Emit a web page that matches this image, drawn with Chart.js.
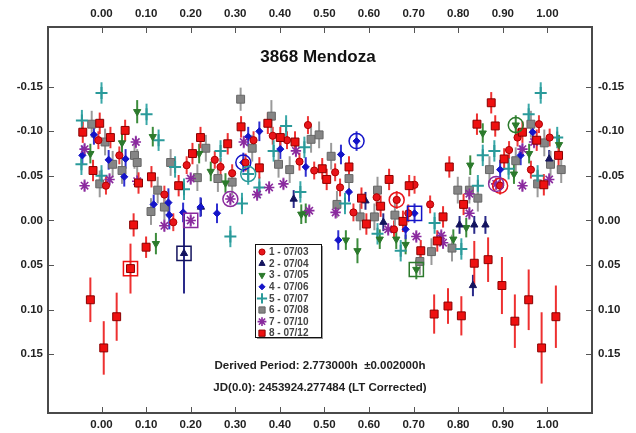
<!DOCTYPE html>
<html>
<head>
<meta charset="utf-8">
<script src="https://cdn.jsdelivr.net/npm/chart.js@4.4.1/dist/chart.umd.min.js"></script>
<style>
  html, body { margin: 0; padding: 0; background: #fff; }
  #wrap { width: 636px; height: 433px; }
</style>
</head>
<body>
<div id="wrap"><canvas id="chart"></canvas></div>
<script>
// =========================
// DATA  (phase, reduced mag, optional error)
// =========================
const chartTitle = "3868 Mendoza";
const periodText = "Derived Period: 2.773000h  \u00B10.002000h";
const jdText = "JD(0.0): 2453924.277484 (LT Corrected)";

const seriesLabels = ["1 - 07/03", "2 - 07/04", "3 - 07/05", "4 - 07/06", "5 - 07/07", "6 - 07/08", "7 - 07/10", "8 - 07/12"];
const errDefault = [0.010, 0.010, 0.011, 0.011, 0.012, 0.015, 0.007, 0.012];

const xTicks = [0, 0.1, 0.2, 0.3, 0.4, 0.5, 0.6, 0.7, 0.8, 0.9, 1.0];
const yTicks = [-0.15, -0.10, -0.05, 0, 0.05, 0.10, 0.15];

const s1 = [[-0.007,-0.090],[0.010,-0.039],[0.040,-0.073],[0.141,-0.029],[0.161,0.002],[0.191,-0.062],
  [0.254,-0.068],[0.293,-0.053],[0.384,-0.095],[0.416,-0.090],[0.463,-0.107],[0.477,-0.056],[0.524,-0.054],
  [0.565,-0.009],[0.617,-0.026],[0.702,-0.040],[0.688,-0.008],[0.737,-0.018],[0.656,0.010],[0.914,-0.079],
  [0.933,-0.093],[0.963,-0.057],[0.981,-0.108],[1.005,-0.093],[0.341,-0.090],[0.323,-0.065],[0.267,-0.060],
  [0.444,-0.066],[0.535,-0.037],[0.662,-0.023],[0.894,-0.039]];

const s2 = [[0.185,0.037,0.045],[0.223,-0.015],[0.431,-0.024],[0.592,-0.022],[0.632,0.002],[0.803,0.005],
  [0.836,0.005],[0.861,0.005],[0.833,0.073,0.012],[1.004,-0.069]];

const s3 = [[0.046,-0.087],[0.080,-0.122,0.013],[0.115,-0.094],[-0.025,-0.075],[0.219,-0.075],[0.245,-0.055],
  [0.278,-0.042],[0.448,-0.007],[0.458,-0.008],[0.122,0.026,0.012],[0.548,0.022],[0.574,0.034,0.014],
  [0.624,0.021],[0.661,0.021],[0.682,0.027],[0.706,0.055],[0.789,0.021],[0.818,0.008],[0.827,-0.062],
  [0.855,-0.098],[0.929,-0.107],[0.959,-0.075],[0.925,-0.052],[1.026,-0.085]];

const s4 = [[-0.017,-0.096],[-0.043,-0.073],[0.016,-0.068],[0.054,-0.069],[0.051,-0.049],[0.117,-0.018],
  [0.150,-0.020,0.016],[0.152,-0.006,0.016],[0.183,-0.009],[0.222,-0.015],[0.259,-0.008],[0.354,-0.100],
  [0.329,-0.094],[0.401,-0.080],[0.318,-0.065],[0.458,-0.060],[0.537,-0.074],[0.572,-0.089],[0.555,-0.032],
  [0.531,0.022],[0.682,0.010],[0.702,-0.008],[0.967,-0.099],[0.940,-0.073],[0.894,-0.057]];

const s5 = [[0.000,-0.143],[-0.044,-0.112],[-0.045,-0.063],[0.000,-0.050],[0.101,-0.119],[0.128,-0.090],
  [0.165,-0.060],[0.185,-0.035],[0.267,-0.078],[0.289,0.018],[0.315,-0.019],[0.329,-0.052],[0.354,-0.037],
  [0.386,-0.078],[0.414,-0.106],[0.446,-0.032],[0.455,-0.082],[0.546,-0.019],[0.619,0.015],[0.671,0.034],
  [0.747,0.003],[0.807,0.032],[0.844,-0.039],[0.855,-0.073],[0.881,-0.078],[0.913,-0.058],[0.958,-0.119],
  [0.985,-0.143],[0.978,-0.050],[1.022,-0.093]];

const s6 = [[-0.022,-0.108],[0.008,-0.088],[-0.004,-0.041],[0.025,-0.063],[0.046,-0.056],[0.074,-0.073],
  [0.080,-0.065],[0.126,-0.034],[0.111,-0.010],[0.141,-0.015],[0.155,-0.065],[0.215,-0.048],[0.234,-0.081],
  [0.261,-0.047],[0.293,-0.043],[0.312,-0.136,0.013],[0.338,-0.081],[0.381,-0.117,0.018],[0.397,-0.063],
  [0.422,-0.057],[0.470,-0.091],[0.488,-0.096],[0.515,-0.072],[0.528,-0.018],[0.555,-0.047],[0.580,-0.004],
  [0.612,-0.004],[0.619,-0.034],[0.658,-0.006],[0.714,0.046],[0.740,0.035],[0.786,0.031],[0.799,-0.034],
  [0.825,-0.034],[0.844,-0.025],[0.870,-0.057],[0.929,-0.067],[0.963,-0.108],[0.993,-0.087],[1.007,-0.063],
  [1.031,-0.057],[0.978,-0.041]];

const s7 = [[-0.038,-0.080],[0.018,-0.046],[-0.038,-0.039],[0.080,-0.044],[0.077,-0.088],[0.141,0.006],
  [0.200,-0.047],[0.200,0.000],[0.289,-0.024],[0.319,-0.088],[0.349,-0.029],[0.376,-0.037],[0.408,-0.041],
  [0.436,-0.078],[0.466,-0.011],[0.525,-0.009],[0.643,0.010],[0.706,0.018],[0.762,0.017],[0.766,0.025],
  [0.825,-0.030],[0.825,-0.008],[0.885,-0.041],[0.944,-0.080],[0.944,-0.039],[1.004,-0.046],[0.970,-0.088]];

const s8 = [[-0.004,-0.109],[-0.042,-0.099],[0.020,-0.093],[0.053,-0.101],[-0.019,-0.056],[0.083,-0.042],
  [0.112,-0.049],[0.173,-0.039],[0.204,-0.075],[0.222,-0.093],[0.283,-0.086],[0.313,-0.105],[0.373,-0.109],
  [0.401,-0.093],[0.434,-0.088],[0.354,-0.059],[0.495,-0.058],[0.505,-0.046],[0.555,-0.060],[0.645,-0.046],
  [0.583,-0.025],[0.594,0.004],[0.690,-0.039],[0.626,-0.016],[0.676,0.001],[0.766,-0.004],[0.716,0.034],
  [0.753,0.023],[0.812,-0.018],[0.780,-0.060],[0.836,0.048,0.025],[0.867,0.044,0.025],[0.874,-0.132],
  [0.842,-0.108],[0.883,-0.106],[0.944,-0.099],[0.976,-0.090],[0.903,-0.069],[1.025,-0.073],[0.992,-0.040],
  [0.072,0.005,0.013],[0.100,0.030],[0.065,0.054,0.028],[-0.025,0.089,0.025],[0.005,0.143,0.030],
  [0.034,0.108,0.027],[0.746,0.105,0.022],[0.777,0.096,0.020],[0.807,0.107,0.022],[0.898,0.073,0.032],
  [0.927,0.113,0.030],[0.958,0.089,0.034],[0.987,0.143,0.040],[1.019,0.108,0.035]];

// first points of sessions (series index, phase, mag, ring shape)
const ringPoints = [[0,0.662,-0.023,"circle"],[0,0.894,-0.039,"circle"],[1,0.185,0.037,"rect"],
  [2,0.929,-0.107,"circle"],[2,0.706,0.055,"rect"],[3,0.572,-0.089,"circle"],[3,0.318,-0.065,"circle"],
  [3,0.702,-0.008,"rect"],[4,0.329,-0.052,"circle"],[6,0.200,0.000,"rect"],[6,0.289,-0.024,"circle"],
  [6,0.885,-0.041,"circle"],[7,0.065,0.054,"rect"]];

// =========================
// STYLES
// =========================
const allSeries = [s1, s2, s3, s4, s5, s6, s7, s8];
const looks = [
  { style: "circle",   radius: 3.6, rot: 0,   fill: "#e8141a", line: "#b00000", bar: "#ee3a3a", bw: 1,   order: 1 },
  { style: "triangle", radius: 4.2, rot: 0,   fill: "#14145e", line: "#14145e", bar: "#2a2a8a", bw: 1,   order: 4 },
  { style: "triangle", radius: 4.2, rot: 180, fill: "#2c7a2c", line: "#2c7a2c", bar: "#3c8c3c", bw: 1,   order: 5 },
  { style: "rectRot",  radius: 3.6, rot: 0,   fill: "#1414c8", line: "#1414c8", bar: "#3030d0", bw: 1,   order: 3 },
  { style: "cross",    radius: 6,   rot: 0,   fill: "#2a9a9a", line: "#2a9a9a", bar: "#3aa8a8", bw: 2,   order: 6 },
  { style: "rect",     radius: 5.6, rot: 0,   fill: "#858585", line: "#666666", bar: "#9a9a9a", bw: 1,   order: 7 },
  { style: "star",     radius: 5.2, rot: 0,   fill: "#8a2a9e", line: "#8a2a9e", bar: "#a050b0", bw: 1.6, order: 2 },
  { style: "rect",     radius: 5.6, rot: 0,   fill: "#ee1010", line: "#8a0000", bar: "#ee3030", bw: 1,   order: 0 }
];

// =========================
// DATASETS
// =========================
const datasets = allSeries.map((pts, i) => ({
  label: seriesLabels[i],
  data: pts.map(p => ({ x: p[0], y: p[1] })),
  errors: pts.map(p => (p.length > 2 ? p[2] : errDefault[i])),
  errColor: looks[i].bar,
  pointStyle: looks[i].style,
  pointRadius: looks[i].radius,
  pointRotation: looks[i].rot,
  backgroundColor: looks[i].fill,
  borderColor: looks[i].line,
  borderWidth: looks[i].bw,
  order: looks[i].order
}));

datasets.push({
  label: "rings",
  data: ringPoints.map(r => ({ x: r[1], y: r[2] })),
  pointStyle: ringPoints.map(r => r[3]),
  pointRadius: ringPoints.map(r => (r[3] === "rect" ? 10 : 7.5)),
  backgroundColor: "rgba(0,0,0,0)",
  borderColor: ringPoints.map(r => looks[r[0]].fill),
  borderWidth: 1.5,
  order: -1
});

// =========================
// PLUGINS
// =========================
const FONT = "'Liberation Sans', Arial, sans-serif";

const errorBars = {
  id: "errorBars",
  beforeDatasetsDraw(chart) {
    const { ctx, chartArea, scales } = chart;
    ctx.save();
    ctx.beginPath();
    ctx.rect(chartArea.left, chartArea.top, chartArea.width, chartArea.height);
    ctx.clip();
    ctx.lineWidth = 2;
    chart.data.datasets.forEach(ds => {
      if (!ds.errors) return;
      ctx.strokeStyle = ds.errColor;
      ds.data.forEach((p, k) => {
        const e = ds.errors[k];
        const px = scales.x.getPixelForValue(p.x);
        ctx.beginPath();
        ctx.moveTo(px, scales.y.getPixelForValue(p.y - e));
        ctx.lineTo(px, scales.y.getPixelForValue(p.y + e));
        ctx.stroke();
      });
    });
    ctx.restore();
  }
};

const overlay = {
  id: "overlay",
  afterDraw(chart) {
    const { ctx, chartArea: a, scales } = chart;
    ctx.save();

    // inward tick marks
    ctx.strokeStyle = "#555";
    ctx.lineWidth = 1;
    xTicks.forEach(v => {
      const px = Math.round(scales.x.getPixelForValue(v)) + 0.5;
      ctx.beginPath();
      ctx.moveTo(px, a.top); ctx.lineTo(px, a.top + 6);
      ctx.moveTo(px, a.bottom); ctx.lineTo(px, a.bottom - 6);
      ctx.stroke();
    });
    yTicks.forEach(v => {
      const py = Math.round(scales.y.getPixelForValue(v)) + 0.5;
      ctx.beginPath();
      ctx.moveTo(a.left, py); ctx.lineTo(a.left + 6, py);
      ctx.moveTo(a.right, py); ctx.lineTo(a.right - 6, py);
      ctx.stroke();
    });

    // frame
    ctx.strokeStyle = "#4a4a4a";
    ctx.lineWidth = 2;
    ctx.strokeRect(a.left, a.top, a.width, a.height);

    // title + footer texts
    const cx = (a.left + a.right) / 2;
    ctx.fillStyle = "#111";
    ctx.textAlign = "center";
    ctx.textBaseline = "middle";
    ctx.font = "bold 17px " + FONT;
    ctx.fillText(chartTitle, cx - 2, 57);
    ctx.fillStyle = "#222";
    ctx.font = "bold 11.5px " + FONT;
    ctx.fillText(periodText, cx, 366);
    ctx.fillText(jdText, cx, 388);

    // legend box
    const lx = 255, ly = 244, lw = 66, lh = 93;
    ctx.fillStyle = "#9a9a9a";
    ctx.fillRect(lx + 2, ly + 2, lw, lh);
    ctx.fillStyle = "#fff";
    ctx.fillRect(lx, ly, lw, lh);
    ctx.strokeStyle = "#111";
    ctx.lineWidth = 1;
    ctx.strokeRect(lx + 0.5, ly + 0.5, lw, lh);
    ctx.textAlign = "left";
    ctx.font = "bold 10px " + FONT;
    seriesLabels.forEach((lab, i) => {
      const y = ly + 8 + i * 11.6;
      const lk = looks[i];
      ctx.fillStyle = lk.fill;
      ctx.strokeStyle = lk.line;
      ctx.lineWidth = lk.bw;
      Chart.helpers.drawPoint(ctx, {
        pointStyle: lk.style,
        radius: lk.style === "rect" ? 4.4 : lk.radius * 0.85,
        rotation: lk.rot,
        borderWidth: lk.bw
      }, lx + 7, y);
      ctx.fillStyle = "#444";
      ctx.fillText(lab, lx + 14, y + 0.5);
    });

    ctx.restore();
  }
};

// =========================
// AXES
// =========================
const tickFont = { family: FONT, size: 11.5, weight: "bold" };
const xAxis = (pos, h, pad) => ({
  type: "linear",
  position: pos,
  min: -0.12,
  max: 1.10,
  afterBuildTicks: s => { s.ticks = xTicks.map(v => ({ value: v })); },
  afterFit: s => { s.height = h; },
  ticks: { font: tickFont, color: "#222", padding: pad, maxRotation: 0, autoSkip: false,
           callback: v => Number(v).toFixed(2) },
  grid: { display: false, drawTicks: false },
  border: { display: false }
});
const yAxis = (pos, w, pad) => ({
  type: "linear",
  position: pos,
  reverse: true,
  min: -0.217,
  max: 0.216,
  afterBuildTicks: s => { s.ticks = yTicks.map(v => ({ value: v })); },
  afterFit: s => { s.width = w; },
  ticks: { font: tickFont, color: "#222", padding: pad, autoSkip: false,
           callback: v => Number(v).toFixed(2) },
  grid: { display: false, drawTicks: false },
  border: { display: false }
});

// =========================
// CHART
// =========================
new Chart(document.getElementById("chart"), {
  type: "scatter",
  data: { datasets },
  options: {
    responsive: true,
    maintainAspectRatio: false,
    animation: false,
    layout: { padding: 0 },
    plugins: { legend: { display: false }, tooltip: { enabled: false } },
    scales: {
      x: xAxis("bottom", 20, 5),
      x2: xAxis("top", 27, 6),
      y: yAxis("left", 48, 5),
      y2: yAxis("right", 44, 6)
    }
  },
  plugins: [errorBars, overlay]
});
</script>
</body>
</html>
